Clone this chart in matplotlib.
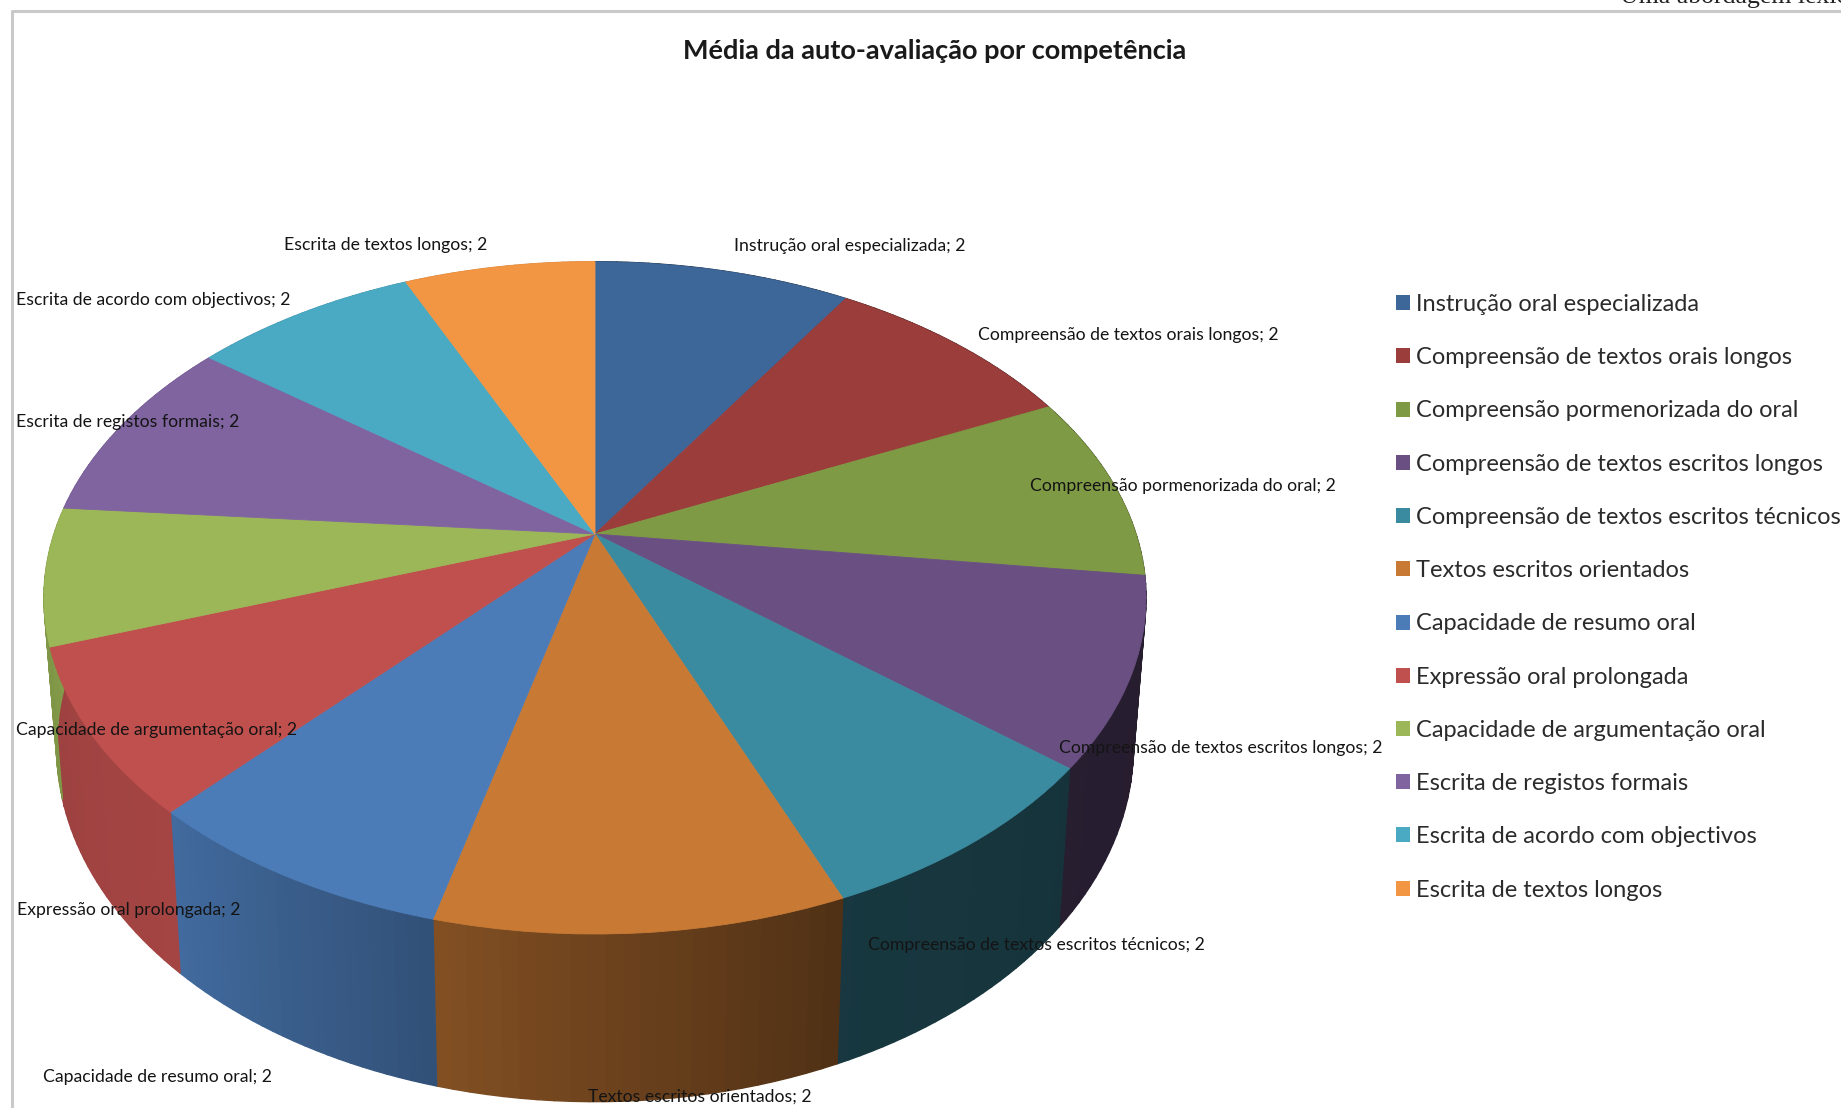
"""
Média da auto-avaliação por competência: circular 3D em perspetiva com legenda.
"""

import matplotlib
matplotlib.use("Agg")
import matplotlib.pyplot as plt
import matplotlib.patches as mpatches
import numpy as np
from matplotlib.collections import PolyCollection
from matplotlib.colors import to_rgb
from matplotlib.lines import Line2D
from matplotlib.transforms import Transform

competencias = [
    "Instrução oral especializada",
    "Compreensão de textos orais longos",
    "Compreensão pormenorizada do oral",
    "Compreensão de textos escritos longos",
    "Compreensão de textos escritos técnicos",
    "Textos escritos orientados",
    "Capacidade de resumo oral",
    "Expressão oral prolongada",
    "Capacidade de argumentação oral",
    "Escrita de registos formais",
    "Escrita de acordo com objectivos",
    "Escrita de textos longos",
]
medias = [2.15, 2.14, 2.13, 2.14, 1.87, 2.40, 1.87, 1.88, 1.57, 2.16, 1.88, 1.60]
cores = ["#3d6799", "#9a3d3b", "#7f9a44", "#6a5082", "#3b8ba0", "#c87a35",
         "#4c7cb8", "#bf504e", "#9bb757", "#8064a0", "#4aaac4", "#f39644"]

# posição dos rótulos (esquerda, centro vertical), em píxeis
rotulos_x = [734, 978, 1030, 1059, 868, 588, 43, 17, 16, 16, 16, 284]
rotulos_y = [246, 335, 486, 748, 945, 1097, 1077, 910, 730, 422, 300, 245]

# perspetiva do disco
CX, CY, RX, RY, K = 595.0, 534.0, 541.0, 324.0, 0.19

plt.rcParams["font.family"] = ["Lato", "DejaVu Sans"]


class DiscoPerspetiva(Transform):
    input_dims = 2
    output_dims = 2

    def transform_non_affine(self, values):
        xy = np.asarray(values, dtype=float)
        u, v = xy[:, 0], -xy[:, 1]
        w = 1 - K * v
        return np.column_stack([CX + RX * u / w, CY + RY * v / w])


def base_do_disco(xy):
    """Contorno inferior da parede, a partir do contorno superior."""
    return np.column_stack([CX + 0.977 * (xy[:, 0] - CX),
                            927.6 + 1.055 * (xy[:, 1] - 769.0)])


def sombra(angulo):
    # angulo medido a partir do topo, no sentido dos ponteiros
    return np.interp(angulo, [90, 130, 158, 194, 222, 251, 275, 360],
                     [.36, .37, .40, .65, .86, .82, .85, .85])


fig = plt.figure(figsize=(18.41, 11.08), dpi=100, facecolor="white")
ax = fig.add_axes([0, 0, 1, 1])

disco = DiscoPerspetiva()
wedges, _ = ax.pie(medias, colors=cores, startangle=90, counterclock=False,
                   wedgeprops={"linewidth": 0.6})
ax.set_aspect("auto")
ax.set_xlim(0, 1841)
ax.set_ylim(1108, 0)
ax.axis("off")

for wedge, cor in zip(wedges, cores):
    wedge.set_edgecolor(cor)
    wedge.set_transform(disco + ax.transData)
    wedge.set_zorder(3)

# paredes laterais, em tiras para o degradé
for wedge, cor in zip(wedges, cores):
    thetas = np.linspace(wedge.theta1, wedge.theta2, 25)
    rad = np.radians(thetas)
    topo = disco.transform(np.column_stack([np.cos(rad), np.sin(rad)]))
    fundo = base_do_disco(topo)
    tiras, faces = [], []
    for i in range(len(thetas) - 1):
        tiras.append([topo[i], topo[i + 1], fundo[i + 1], fundo[i]])
        ang = (90 - (thetas[i] + thetas[i + 1]) / 2) % 360
        faces.append(np.array(to_rgb(cor)) * sombra(ang))
    ax.add_collection(PolyCollection(tiras, facecolors=faces, edgecolors="face",
                                     linewidths=1.0, zorder=2))

for nome, media, x, y in zip(competencias, medias, rotulos_x, rotulos_y):
    ax.text(x, y, f"{nome}; {media:.0f}", ha="left", va="center",
            fontsize=12.7, color="#141414", zorder=5)

ax.text(935, 51, "Média da auto-avaliação por competência", ha="center", va="center",
        fontsize=19.5, fontweight="bold", color="#1a1a1a")

handles = [mpatches.Patch(facecolor=c, edgecolor="none") for c in cores]
ax.legend(handles, competencias, loc="upper left", bbox_to_anchor=(1396, 294),
          bbox_transform=ax.transData, frameon=False, fontsize=17,
          labelcolor="#2b2b2b", handlelength=0.6, handleheight=0.6,
          handletextpad=0.25, labelspacing=1.365, borderpad=0, borderaxespad=0)

# moldura cinzenta e cabeçalho da página
ax.add_line(Line2D([1841, 12, 12], [11, 11, 1108], color="#c9c9c9", lw=2.2))
ax.text(1620, 3, "Uma abordagem lexical", ha="left", va="baseline", fontsize=18.5,
        family=["Liberation Serif", "DejaVu Serif"], color="#222222", clip_on=False)

fig.savefig("out.png", dpi=100, facecolor="white")
plt.close(fig)
